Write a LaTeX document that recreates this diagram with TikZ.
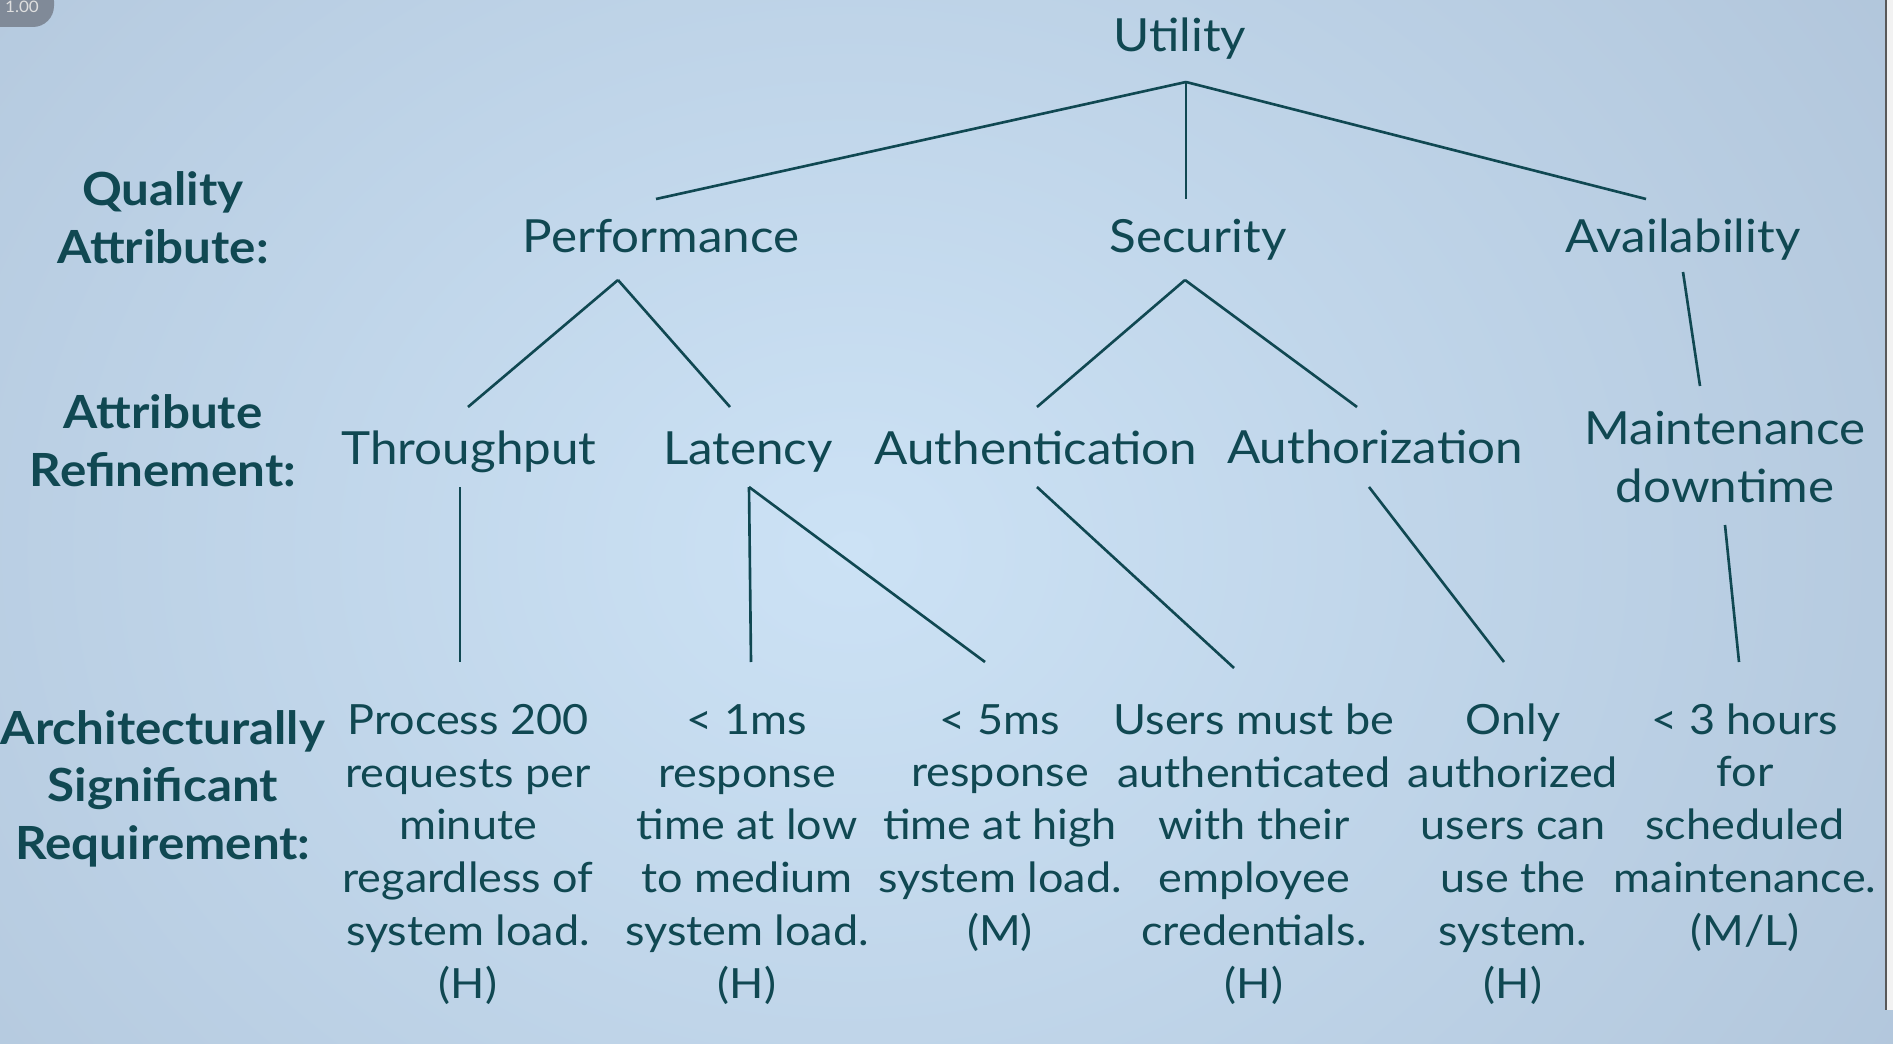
\documentclass[tikz,border=0pt]{standalone}
\usepackage{fontspec}
\setmainfont{Lato}[FakeStretch=1.08]
\definecolor{ink}{RGB}{16,72,82}
\definecolor{bgmid}{RGB}{204,226,245}
\definecolor{bgedge}{RGB}{170,190,212}
\definecolor{badge}{RGB}{128,138,152}
\begin{document}
\begin{tikzpicture}[x=0.02cm, y=-0.02cm,
  lvl/.style={anchor=base, text=ink, inner sep=0pt, align=center, font=\fontsize{26}{33}\selectfont},
  req/.style={anchor=base, text=ink, inner sep=0pt, align=center, font=\fontsize{23.7}{30}\selectfont},
  head/.style={anchor=base, text=ink, inner sep=0pt, align=center, font=\bfseries\fontsize{26}{32.7}\selectfont},
  link/.style={draw=ink, line width=1.5pt}]
\useasboundingbox (0,0) rectangle (1893,1044);
\clip (0,0) rectangle (1893,1044);
% background
\fill[bgedge] (0,0) rectangle (1893,1044);
\shade[inner color=bgmid, outer color=bgedge] (-750,-800) rectangle (2450,1900);
\fill[gray!10] (1886,0) rectangle (1893,1010);
\draw[gray!70!black, line width=1pt] (1886,0) -- (1886,1010);
\fill[badge, rounded corners=12] (-20,-20) rectangle (54,27);
\node[text=gray!25, font=\fontsize{9}{9}\selectfont] (zoom) at (22,7) {1.00};
% row headings (base = last line)
\node[head] (qa) at (163,263) {Quality\\Attribute:};
\node[head] (ar) at (163,486) {Attribute\\Refinement:};
\node[head] (asr) at (163,859) {Architecturally\\Significant\\Requirement:};
% tree
\node[lvl] (u) at (1180,52) {Utility};
\node[lvl] (p) at (661,253) {Performance};
\node[lvl] (s) at (1198,253) {Security};
\node[lvl] (a) at (1683,253) {Availability};
\node[lvl] (thr) at (469,464) {Throughput};
\node[lvl] (lat) at (748,464) {Latency};
\node[lvl] (authn) at (1036,464) {Authentication};
\node[lvl] (authz) at (1375,463) {Authorization};
\node[lvl] (maint) at (1725,502) {Maintenance\\downtime};
\node[req] (r1) at (468,998) {Process 200\\requests per\\minute\\regardless of\\system load.\\(H)};
\node[req] (r2) at (747,998) {< 1ms\\response\\time at low\\to medium\\system load.\\(H)};
\node[req] (r3) at (1000,945) {< 5ms\\response\\time at high\\system load.\\(M)};
\node[req] (r4) at (1254,998) {Users must be\\authenticated\\with their\\employee\\credentials.\\(H)};
\node[req] (r5) at (1513,998) {Only\\authorized\\users can\\use the\\system.\\(H)};
\node[req] (r6) at (1745,945) {< 3 hours\\for\\scheduled\\maintenance.\\(M/L)};
% line ends
\coordinate (u-b) at (1186,82);
\coordinate (p-t) at (656,199);
\coordinate (s-t) at (1186,199);
\coordinate (a-t) at (1646,199);
\coordinate (p-b) at (618,280);
\coordinate (thr-t) at (468,407);
\coordinate (lat-t) at (730,407);
\coordinate (s-b) at (1185,280);
\coordinate (authn-t) at (1037,407);
\coordinate (authz-t) at (1357,407);
\coordinate (a-b) at (1683,272);
\coordinate (maint-t) at (1700,386);
\coordinate (thr-b) at (460,487);
\coordinate (r1-t) at (460,662);
\coordinate (lat-b) at (749,487);
\coordinate (r2-t) at (751,662);
\coordinate (r3-t) at (985,662);
\coordinate (authn-b) at (1037,487);
\coordinate (r4-t) at (1234,668);
\coordinate (authz-b) at (1369,487);
\coordinate (r5-t) at (1504,662);
\coordinate (maint-b) at (1725,525);
\coordinate (r6-t) at (1739,662);
\draw[link] (u-b) -- (p-t);
\draw[link] (u-b) -- (s-t);
\draw[link] (u-b) -- (a-t);
\draw[link] (p-b) -- (thr-t);
\draw[link] (p-b) -- (lat-t);
\draw[link] (s-b) -- (authn-t);
\draw[link] (s-b) -- (authz-t);
\draw[link] (a-b) -- (maint-t);
\draw[link] (thr-b) -- (r1-t);
\draw[link] (lat-b) -- (r2-t);
\draw[link] (lat-b) -- (r3-t);
\draw[link] (authn-b) -- (r4-t);
\draw[link] (authz-b) -- (r5-t);
\draw[link] (maint-b) -- (r6-t);
\end{tikzpicture}
\end{document}
